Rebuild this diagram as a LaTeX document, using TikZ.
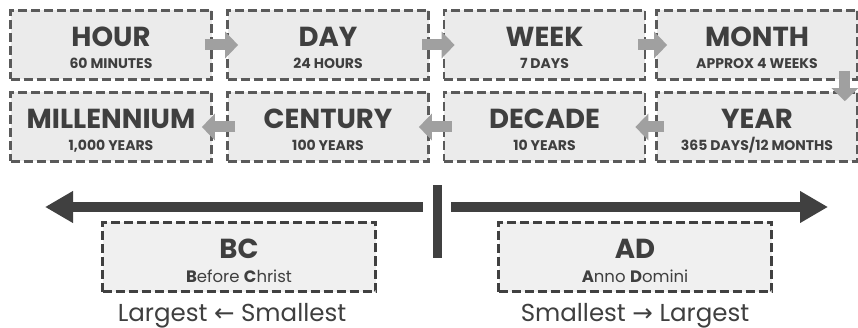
\documentclass[tikz,border=0pt]{standalone}
\usepackage{fontspec}
\setmainfont{Poppins}
\newfontfamily\symfont{DejaVu Sans}
\usetikzlibrary{arrows.meta}
\definecolor{boxfill}{HTML}{EBEBEB}
\definecolor{boxline}{HTML}{5A5A5A}
\definecolor{txt}{HTML}{3F3F3F}
\definecolor{smarr}{HTML}{A0A0A0}
\definecolor{bigarr}{HTML}{404040}
\definecolor{erafill}{HTML}{F0F0F0}
\tikzset{
  unitbox/.style={draw=boxline, fill=boxfill, line width=2.7pt, dash pattern=on 9pt off 4pt,
    minimum width=201pt, minimum height=69pt, inner sep=0pt},
  erabox/.style={draw=bigarr, fill=erafill, line width=2.7pt, dash pattern=on 9pt off 4pt,
    minimum width=273pt, minimum height=69pt, inner sep=0pt},
  ttl/.style={anchor=base, inner sep=0pt, text=txt, font=\bfseries\fontsize{27.5}{28}\selectfont},
  sub/.style={anchor=base, inner sep=0pt, text=txt, font=\bfseries\fontsize{14}{14}\selectfont},
  erasub/.style={anchor=base, inner sep=0pt, text=txt, font=\fontsize{16.5}{17}\selectfont},
  bottomtxt/.style={anchor=base, inner sep=0pt, text=txt, font=\fontsize{24.5}{25}\selectfont},
  smarrow/.style={draw=smarr, line width=11pt, -{Triangle[width=26pt,length=13pt]}},
  bigarrow/.style={draw=bigarr, line width=10pt, -{Triangle[width=30pt,length=28pt]}},
}
\newcommand{\unitbox}[5]{%
  \node[unitbox] (#1) at (#2) {};
  \node[ttl] (#1T) at ([yshift=-1.5pt]#1.center) {#3};
  \node[sub] (#1S) at ([yshift=-24pt]#1.center) {#4};
}
\begin{document}
\begin{tikzpicture}[x=1pt,y=-1pt]
\useasboundingbox (0,0) rectangle (858,328);
% top row
\unitbox{hour}{111,45}{HOUR}{60 MINUTES}{}
\unitbox{day}{328,45}{DAY}{24 HOURS}{}
\unitbox{week}{544.5,45}{WEEK}{7 DAYS}{}
\unitbox{month}{757,45}{MONTH}{APPROX 4 WEEKS}{}
% bottom row
\unitbox{mill}{111,127}{MILLENNIUM}{1,000 YEARS}{}
\unitbox{cent}{328,127}{CENTURY}{100 YEARS}{}
\unitbox{dec}{544.5,127}{DECADE}{10 YEARS}{}
\unitbox{year}{757,127}{YEAR}{365 DAYS/12 MONTHS}{}
% small arrows
\draw[smarrow] ([xshift=-8pt]hour.east) -- ([xshift=12pt]day.west);
\draw[smarrow] ([xshift=-8pt]day.east) -- ([xshift=12pt]week.west);
\draw[smarrow] ([xshift=-8pt]week.east) -- ([xshift=12pt]month.west);
\draw[smarrow] ([xshift=-14pt,yshift=10pt]month.south east) -- ([xshift=-14pt,yshift=-10pt]year.north east);
\draw[smarrow] ([xshift=9pt]year.west) -- ([xshift=-11pt]dec.east);
\draw[smarrow] ([xshift=9pt]dec.west) -- ([xshift=-11pt]cent.east);
\draw[smarrow] ([xshift=9pt]cent.west) -- ([xshift=-11pt]mill.east);
% timeline
\node[fill=bigarr, minimum width=9pt, minimum height=73pt, inner sep=0pt] (bar) at (437.5,221.5) {};
\coordinate (ltip) at (45,207);
\coordinate (rtip) at (828,207);
\draw[bigarrow] (bar.west |- ltip) ++(-10,0) -- (ltip);
\draw[bigarrow] (bar.east |- rtip) ++(9,0) -- (rtip);
% eras
\node[erabox] (bc) at (239,257) {};
\node[ttl] (bcT) at ([yshift=-2pt]bc.center) {BC};
\node[erasub] (bcS) at ([yshift=-25pt]bc.center) {\textbf{B}efore \textbf{C}hrist};
\node[erabox] (ad) at (635,257) {};
\node[ttl] (adT) at ([yshift=-2pt]ad.center) {AD};
\node[erasub] (adS) at ([yshift=-25pt]ad.center) {\textbf{A}nno \textbf{D}omini};
\node[bottomtxt] (bcL) at (232,321) {Largest {\symfont\char"2190} Smallest};
\node[bottomtxt] (adL) at (635,321) {Smallest {\symfont\char"2192} Largest};
\end{tikzpicture}
\end{document}
